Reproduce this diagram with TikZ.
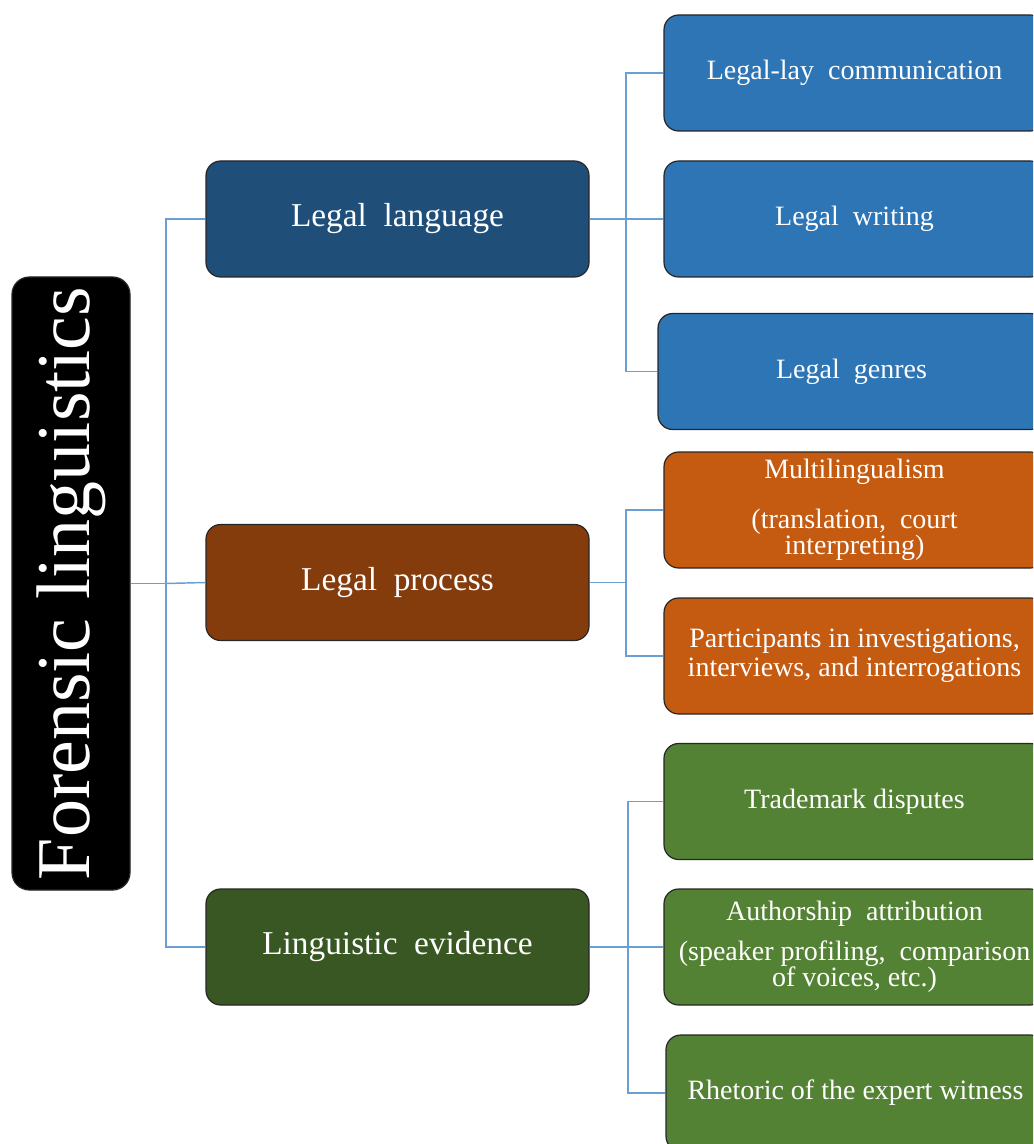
\documentclass[tikz,border=0pt]{standalone}
\usepackage{fontspec}
\setmainfont{Liberation Serif}
\definecolor{cRoot}{HTML}{000000}
\definecolor{cLang}{HTML}{1F4E79}
\definecolor{cProc}{HTML}{843C0C}
\definecolor{cEvid}{HTML}{385723}
\definecolor{cBlue}{HTML}{2E75B6}
\definecolor{cOrng}{HTML}{C55A11}
\definecolor{cGrn}{HTML}{548235}
\definecolor{cLine}{HTML}{6A9FD4}
\tikzset{
  basebox/.style={draw=black!85, line width=0.9pt, rounded corners=11pt, text=white, align=center, inner sep=2pt},
  midbox/.style={basebox, minimum width=287.25pt, minimum height=87pt, font=\fontsize{25}{28}\selectfont},
  leafbox/.style={basebox, minimum width=285.75pt, minimum height=87pt, font=\fontsize{21}{22}\selectfont},
  conn/.style={draw=cLine, line width=1.1pt},
}
\newcommand{\wsp}{\hspace{0.5em}}
\begin{document}
\begin{tikzpicture}[x=0.75pt,y=-0.75pt]
\useasboundingbox (0,0) rectangle (1033,1144);
\clip (0,0) rectangle (1033,1144);

% root
\node[basebox, fill=black, minimum width=88.5pt, minimum height=459.75pt, rounded corners=13pt] (root) at (71,583.5) {};
\node[text=white, rotate=90, font=\fontsize{57}{60}\selectfont] (title) at (root.center) {Forensic linguistics};

% middle
\node[midbox, fill=cLang] (lang) at (397.5,219) {Legal\wsp language};
\node[midbox, fill=cProc] (proc) at (397.5,582.5) {Legal\wsp process};
\node[midbox, fill=cEvid] (evid) at (397.5,947) {Linguistic\wsp evidence};

% leaves: language
\node[leafbox, fill=cBlue] (lay) at (854.5,73) {Legal-lay\wsp communication};
\node[leafbox, fill=cBlue] (writ) at (854.5,219) {Legal\wsp writing};
\node[leafbox, fill=cBlue, minimum width=290.25pt] (genr) at (851.5,371.5) {Legal\wsp genres};

% leaves: process
\node[leafbox, fill=cOrng, font=\fontsize{21}{18}\selectfont] (multi) at (854.5,510) {Multilingualism\\[17pt](translation,\wsp court\\interpreting)};
\node[leafbox, fill=cOrng, font=\fontsize{21}{21.75}\selectfont] (part) at (854.5,656) {Participants in investigations,\\interviews, and interrogations};

% leaves: evidence
\node[leafbox, fill=cGrn] (trade) at (854.5,801.5) {Trademark disputes};
\node[leafbox, fill=cGrn, font=\fontsize{21}{19.5}\selectfont] (auth) at (854.5,947) {Authorship\wsp attribution\\[10.5pt](speaker profiling,\wsp comparison\\of voices, etc.)};
\node[leafbox, fill=cGrn, minimum width=284.25pt] (rhet) at (855.5,1093) {Rhetoric of the expert witness};

% connectors root -> middle
\draw[conn] (root.east) -- (166,583.5) coordinate (j0);
\draw[conn] (j0) |- (lang.west);
\draw[conn] (j0) |- (evid.west);
\draw[conn] (j0) -- (proc.west);

% lang -> leaves
\draw[conn] (lang.east) -- (626,219) coordinate (j1);
\draw[conn] (j1) |- (lay.west);
\draw[conn] (j1) -- (writ.west);
\draw[conn] (j1) |- (genr.west);

% proc -> leaves
\draw[conn] (proc.east) -- (626,582.5) coordinate (j2);
\draw[conn] (j2) |- (multi.west);
\draw[conn] (j2) |- (part.west);

% evid -> leaves
\draw[conn] (evid.east) -- (628,947) coordinate (j3);
\draw[conn] (j3) |- (trade.west);
\draw[conn] (j3) -- (auth.west);
\draw[conn] (j3) |- (rhet.west);
\end{tikzpicture}
\end{document}
